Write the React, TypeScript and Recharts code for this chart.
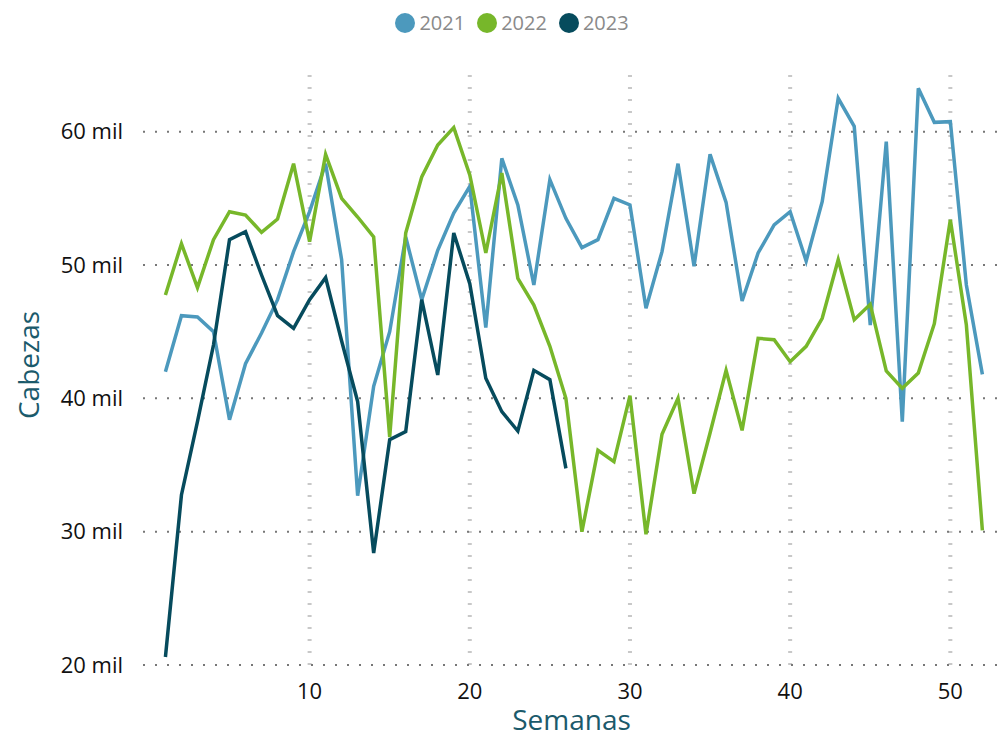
import React from 'react';
import { LineChart, Line, XAxis, YAxis, ReferenceLine, Legend, Label } from 'recharts';

// weekly head counts, in thousands ("mil")
const semanas = Array.from({ length: 52 }, (_, i) => i + 1);

const cabezas2021 = [
  42.0, 46.2, 46.1, 45.0, 38.4, 42.6, 44.9, 47.4, 51.0, 54.0,
  57.6, 50.4, 32.7, 40.9, 45.0, 52.1, 47.4, 51.1, 53.9, 55.9,
  45.3, 58.0, 54.5, 48.5, 56.4, 53.5, 51.3, 51.9, 55.0, 54.5,
  46.75, 51.0, 57.6, 49.9, 58.3, 54.7, 47.3, 50.9, 53.0, 54.0,
  50.3, 54.75, 62.5, 60.4, 45.5, 59.25, 38.25, 63.25, 60.7, 60.75,
  48.5, 41.8,
];

const cabezas2022 = [
  47.75, 51.6, 48.3, 51.9, 54.0, 53.75, 52.45, 53.45, 57.6, 51.75,
  58.3, 55.0, 53.6, 52.1, 37.1, 52.4, 56.6, 59.0, 60.3, 56.75,
  50.9, 56.9, 49.0, 47.0, 43.9, 40.0, 30.0, 36.1, 35.25, 40.2,
  29.8, 37.3, 40.0, 32.85, 37.4, 42.1, 37.6, 44.5, 44.4, 42.75,
  43.9, 46.0, 50.4, 45.9, 47.05, 42.05, 40.75, 41.9, 45.6, 53.4,
  45.5, 30.1,
];

const cabezas2023 = [
  20.6, 32.75, 38.25, 44.0, 51.9, 52.5, 49.25, 46.2, 45.25, 47.4,
  49.05, 44.3, 39.75, 28.4, 36.9, 37.5, 47.4, 41.75, 52.4, 48.6,
  41.5, 39.0, 37.55, 42.1, 41.4, 34.75,
];

const xTicks = [10, 20, 30, 40, 50];
const yTicks = [20, 30, 40, 50, 60];

const series = [
  { key: 'y2021', name: '2021', color: '#4C99BD' },
  { key: 'y2022', name: '2022', color: '#77B72A' },
  { key: 'y2023', name: '2023', color: '#064B5D' },
];

const data = semanas.map((s, i) => ({
  semana: s,
  y2021: cabezas2021[i],
  y2022: cabezas2022[i],
  y2023: cabezas2023[i],
}));

const FONT = '"Open Sans", "Noto Sans", sans-serif';
const TITLE_COLOR = '#1B5A6B';

function LegendContent() {
  return (
    <div
      style={{
        height: 60,
        boxSizing: 'border-box',
        paddingTop: 8,
        paddingLeft: 24,
        display: 'flex',
        justifyContent: 'center',
        alignItems: 'flex-start',
        fontFamily: FONT,
      }}
    >
      {series.map((s, i) => (
        <div
          key={s.key}
          style={{ display: 'flex', alignItems: 'center', marginRight: i < series.length - 1 ? 12 : 0 }}
        >
          <span
            style={{
              width: 20,
              height: 20,
              borderRadius: '50%',
              background: s.color,
              display: 'inline-block',
              marginRight: 4,
            }}
          />
          <span style={{ fontSize: 20, color: '#8A8A8A', lineHeight: '20px' }}>{s.name}</span>
        </div>
      ))}
    </div>
  );
}

function YTitle(props: any) {
  const { viewBox } = props;
  const cx = 39;
  const cy = viewBox.y + viewBox.height / 2;
  return (
    <text
      x={cx}
      y={cy}
      transform={`rotate(-90, ${cx}, ${cy})`}
      textAnchor="middle"
      fill={TITLE_COLOR}
      fontSize={28}
      fontFamily={FONT}
    >
      Cabezas
    </text>
  );
}

function XTitle(props: any) {
  const { viewBox } = props;
  const cx = viewBox.x + viewBox.width / 2;
  return (
    <text x={cx} y={730} textAnchor="middle" fill={TITLE_COLOR} fontSize={28} fontFamily={FONT}>
      Semanas
    </text>
  );
}

export default function App() {
  return (
    <div style={{ position: 'absolute', left: 0, top: 0 }}>
      <LineChart
        width={1008}
        height={738}
        data={data}
        margin={{ top: 5, right: 8, bottom: 0, left: 0 }}
      >
        <XAxis
          dataKey="semana"
          type="number"
          domain={[-0.4, 53.1]}
          ticks={xTicks}
          allowDataOverflow
          axisLine={false}
          tickLine={false}
          tickSize={0}
          tickMargin={18}
          height={73}
          tick={{ fontSize: 22, fill: '#111', fontFamily: FONT }}
        >
          <Label content={<XTitle />} />
        </XAxis>
        <YAxis
          type="number"
          domain={[20, 65]}
          ticks={yTicks}
          allowDataOverflow
          axisLine={false}
          tickLine={false}
          tickSize={0}
          tickMargin={20}
          width={143}
          tickFormatter={(v: number) => `${v} mil`}
          tick={{ fontSize: 22, fill: '#111', fontFamily: FONT }}
        >
          <Label content={<YTitle />} />
        </YAxis>
        <Legend verticalAlign="top" content={<LegendContent />} />
        {xTicks.map((t) => (
          <ReferenceLine
            key={`vx-${t}`}
            x={t}
            stroke="#C8C8C8"
            strokeWidth={4}
            strokeDasharray="2 10"
          />
        ))}
        {yTicks.map((t) => (
          <ReferenceLine
            key={`hy-${t}`}
            y={t}
            stroke="#777777"
            strokeWidth={2}
            strokeDasharray="2 10"
          />
        ))}
        {series.map((s) => (
          <Line
            key={s.key}
            dataKey={s.key}
            name={s.name}
            stroke={s.color}
            strokeWidth={3.5}
            dot={false}
            activeDot={false}
            isAnimationActive={false}
          />
        ))}
      </LineChart>
    </div>
  );
}
